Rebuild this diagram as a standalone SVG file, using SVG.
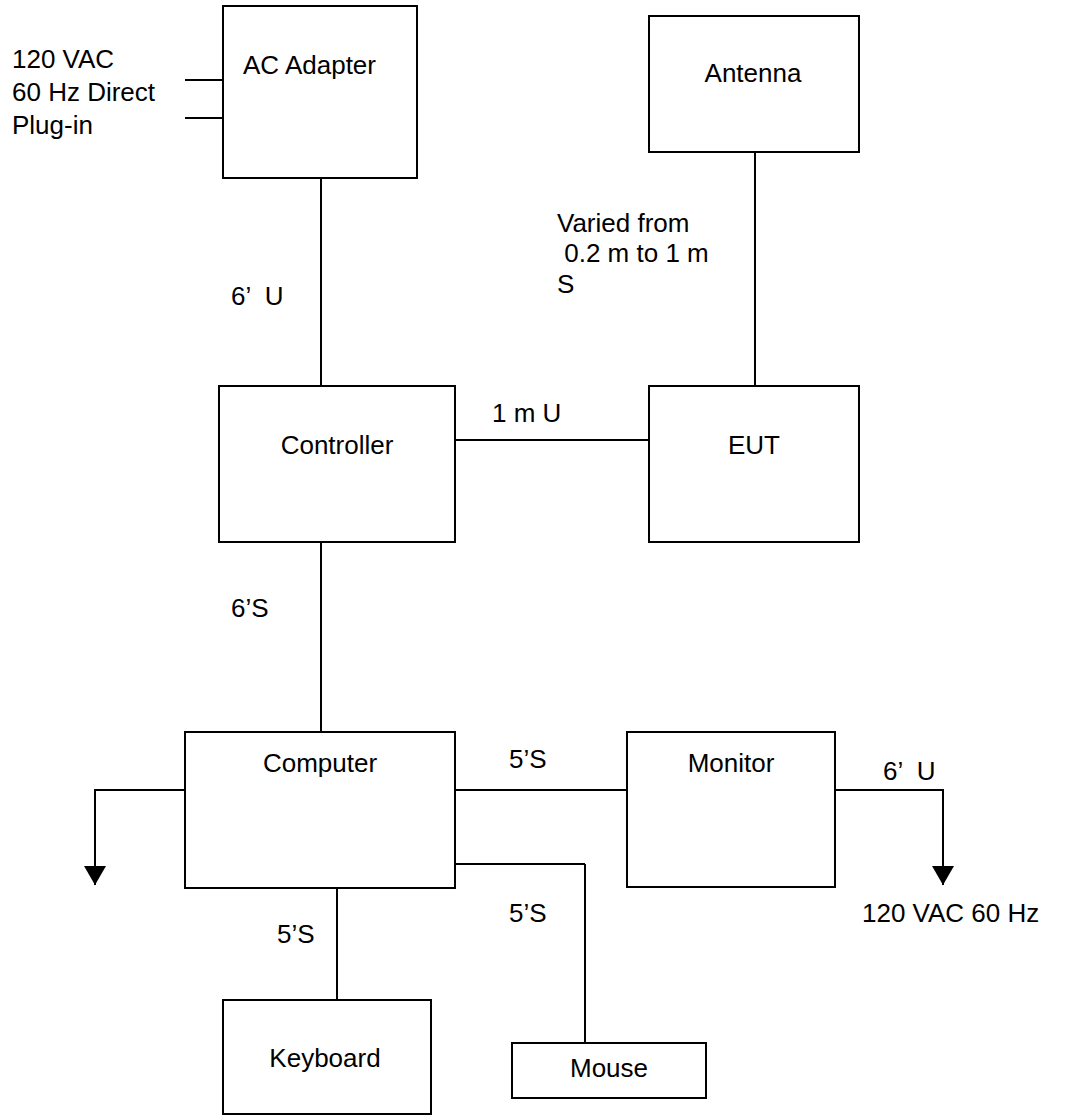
<svg xmlns="http://www.w3.org/2000/svg" width="1068" height="1116" viewBox="0 0 1068 1116">
<style>
.box{fill:#fff;stroke:#000;stroke-width:2}
.ln{fill:none;stroke:#000;stroke-width:2}
text{font-family:"Liberation Sans",Arial,sans-serif;font-size:26px;fill:#000}
.c{text-anchor:middle}
</style>
<defs>
<marker id="ah" markerWidth="19" markerHeight="22" refX="19" refY="11" orient="auto" markerUnits="userSpaceOnUse" viewBox="0 0 19 22">
<path d="M0,0 L19,11 L0,22 Z" fill="#000"/>
</marker>
</defs>
<rect width="1068" height="1116" fill="#fff"/>
<g id="connectors">
<line class="ln" x1="185" y1="80" x2="223" y2="80"/>
<line class="ln" x1="185" y1="118" x2="223" y2="118"/>
<line class="ln" x1="321" y1="178" x2="321" y2="386"/>
<line class="ln" x1="755" y1="152" x2="755" y2="386"/>
<line class="ln" x1="455" y1="440" x2="649" y2="440"/>
<line class="ln" x1="321" y1="542" x2="321" y2="732"/>
<line class="ln" x1="455" y1="790" x2="627" y2="790"/>
<line class="ln" x1="455" y1="864" x2="585" y2="864"/>
<line class="ln" x1="585" y1="864" x2="585" y2="1043"/>
<line class="ln" x1="337" y1="888" x2="337" y2="1000"/>
<path class="ln" d="M185,790 H95 V885" marker-end="url(#ah)"/>
<path class="ln" d="M835,790 H943 V885" marker-end="url(#ah)"/>
<text x="12" y="68">120 VAC</text>
<text x="12" y="101">60 Hz Direct</text>
<text x="12" y="134">Plug-in</text>
<text x="231" y="305" xml:space="preserve">6’  U</text>
<text x="557" y="232">Varied from</text>
<text x="557" y="262" xml:space="preserve"> 0.2 m to 1 m</text>
<text x="557" y="293">S</text>
<text x="492" y="422">1 m U</text>
<text x="231" y="617">6’S</text>
<text x="509" y="768">5’S</text>
<text x="883" y="780" xml:space="preserve">6’  U</text>
<text x="862" y="922">120 VAC 60 Hz</text>
<text x="277" y="943">5’S</text>
<text x="509" y="922">5’S</text>
</g>
<g id="ac-adapter"><rect class="box" x="223" y="6" width="194" height="172"/><text x="243" y="74">AC Adapter</text></g>
<g id="antenna"><rect class="box" x="649" y="16" width="210" height="136"/><text class="c" x="753" y="82">Antenna</text></g>
<g id="controller"><rect class="box" x="219" y="386" width="236" height="156"/><text class="c" x="337" y="454">Controller</text></g>
<g id="eut"><rect class="box" x="649" y="386" width="210" height="156"/><text class="c" x="754" y="454">EUT</text></g>
<g id="computer"><rect class="box" x="185" y="732" width="270" height="156"/><text class="c" x="320" y="772">Computer</text></g>
<g id="monitor"><rect class="box" x="627" y="732" width="208" height="155"/><text class="c" x="731" y="772">Monitor</text></g>
<g id="keyboard"><rect class="box" x="223" y="1000" width="208" height="114"/><text class="c" x="325" y="1067">Keyboard</text></g>
<g id="mouse"><rect class="box" x="512" y="1043" width="194" height="55"/><text class="c" x="609" y="1077">Mouse</text></g>
</svg>
